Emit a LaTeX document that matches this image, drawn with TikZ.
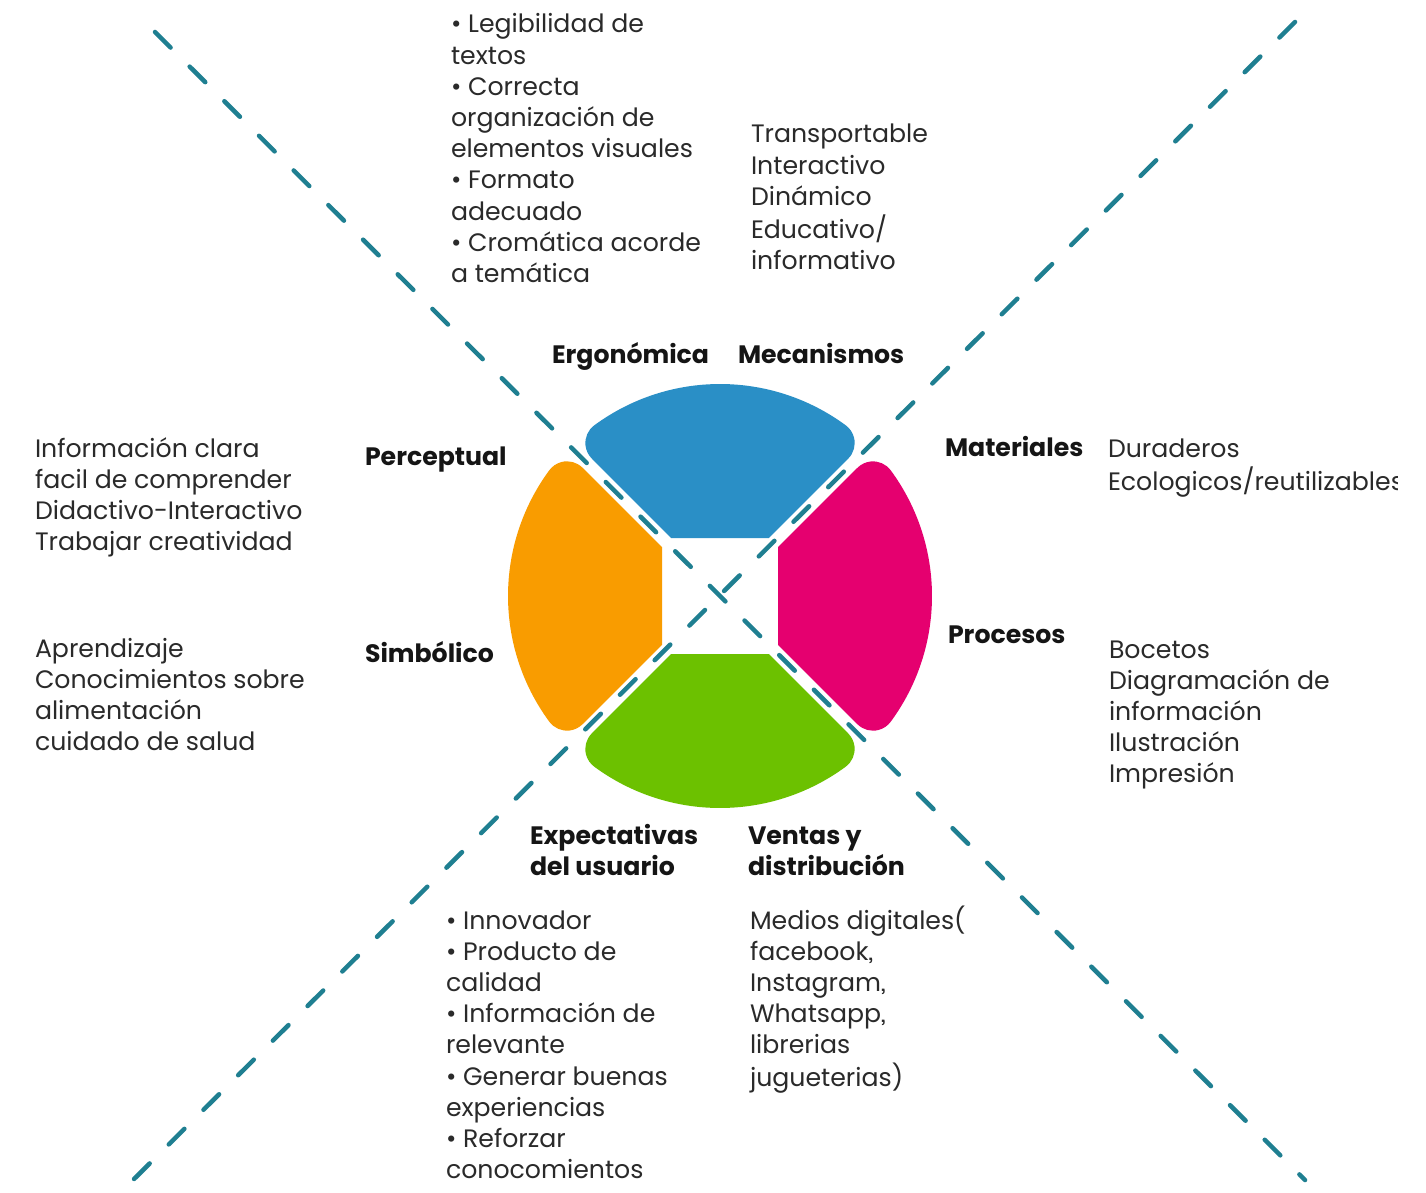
\documentclass[tikz,border=0pt]{standalone}
\usepackage{fontspec}
\setmainfont{Poppins}[RawFeature={+ss01}]
\definecolor{cblue}{HTML}{2A8FC6}
\definecolor{corange}{HTML}{F99C00}
\definecolor{cpink}{HTML}{E5006F}
\definecolor{cgreen}{HTML}{6CC100}
\definecolor{cteal}{HTML}{1F7F91}
\definecolor{txtgray}{HTML}{2A2A2A}
\definecolor{labblack}{HTML}{151515}
\newcommand\bodyfont{\fontsize{25.2}{31.2}\selectfont}
\newcommand\labfont{\fontsize{25.2}{31.2}\selectfont\bfseries}
\newcommand\mylines[1]{\begin{tabular}[t]{@{}l@{}}#1\end{tabular}}
\tikzset{
  body/.style={anchor=base west, inner sep=0pt, outer sep=0pt, text=txtgray, font=\bodyfont},
  lab/.style={anchor=base west, inner sep=0pt, outer sep=0pt, text=labblack, font=\labfont},
  axisline/.style={draw=cteal, line width=4.5pt, dash pattern=on 22pt off 27pt, line cap=round},
}
\begin{document}
\begin{tikzpicture}[x=1pt,y=-1pt]
\useasboundingbox (0,0) rectangle (1426,1193);
\fill[white] (0,0) rectangle (1426,1193);
% diagonal dashed axes
\coordinate (tl) at (155,32);
\coordinate (br) at (1305,1180);
\coordinate (tr) at (1295,22);
\coordinate (bl) at (120,1193);
\draw[axisline] (tl) -- (br);
\draw[axisline] (tr) -- (bl);
% four segments of the ring
\begin{scope}[shift={(720,596)}, yscale=-1]
  \foreach \rot/\col in {0/cblue, 90/cpink, 180/cgreen, 270/corange}{
    \fill[\col, rotate=\rot] (-48.8,58) -- (48.8,58) -- (128.24,137.43)
      arc[start angle=-45, end angle=53.63, radius=22]
      arc[start angle=53.63, end angle=126.37, radius=212]
      arc[start angle=126.37, end angle=225, radius=22] -- cycle;
  }
\end{scope}
% labels
\node[lab] (ergo) at (552,363) {Ergonómica};
\node[lab] (meca) at (738,363) {Mecanismos};
\node[lab] (perc) at (365,465) {Perceptual};
\node[lab] (simb) at (365,662) {Simbólico};
\node[lab] (mate) at (945,456) {Materiales};
\node[lab] (proc) at (948,643) {Procesos};
\node[lab] (expe) at (530,844) {\mylines{Expectativas\\del usuario}};
\node[lab] (vent) at (748,844) {\mylines{Ventas y\\distribución}};
% body texts
\node[body] (ergotxt) at (451,33) {\mylines{• Legibilidad de\\textos\\• Correcta\\organización de\\elementos visuales\\• Formato\\adecuado\\• Cromática acorde\\a temática}};
\node[body] (mecatxt) at (751,143) {\mylines{Transportable\\Interactivo\\Dinámico\\Educativo/\\informativo}};
\node[body] (perctxt) at (35,457) {\mylines{Información clara\\facil de comprender\\Didactivo-Interactivo\\Trabajar creatividad}};
\node[body] (simbtxt) at (35,657) {\mylines{Aprendizaje\\Conocimientos sobre\\alimentación\\cuidado de salud}};
\begin{scope}
  \clip (0,0) rectangle (1397,1193);
  \node[body] (matetxt) at (1108,457) {\mylines{Duraderos\\Ecologicos/reutilizables}};
\end{scope}
\node[body] (proctxt) at (1109,658) {\mylines{Bocetos\\Diagramación de\\información\\Ilustración\\Impresión}};
\node[body] (expetxt) at (446,929) {\mylines{• Innovador\\• Producto de\\calidad\\• Información de\\relevante\\• Generar buenas\\experiencias\\• Reforzar\\conocomientos}};
\node[body] (venttxt) at (750,929) {\mylines{Medios digitales(\\facebook,\\Instagram,\\Whatsapp,\\librerias\\jugueterias)}};
\end{tikzpicture}
\end{document}
